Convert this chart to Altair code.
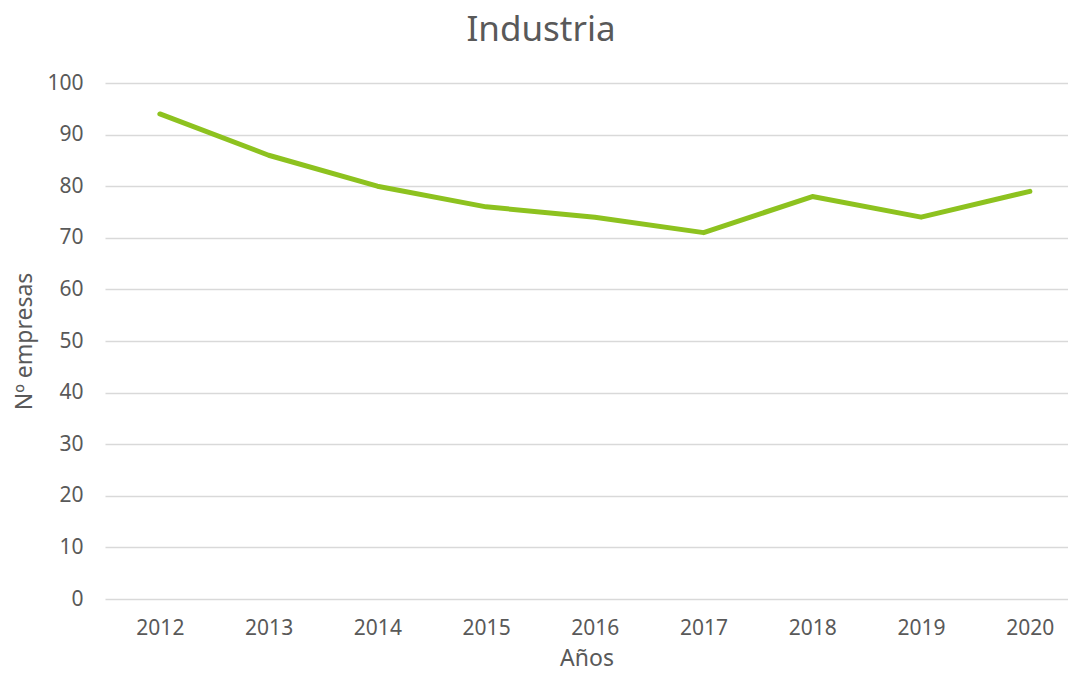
import altair as alt
import pandas as pd

years = ["2012", "2013", "2014", "2015", "2016", "2017", "2018", "2019", "2020"]
empresas = [94, 86, 80, 76, 74, 71, 78, 74, 79]

df = pd.DataFrame({"Año": years, "Empresas": empresas})

FONT = "Noto Sans"
TXT = "#595959"

chart = alt.Chart(df).mark_line(
    color="#8dc21f", strokeWidth=5, strokeCap="round", strokeJoin="round"
).encode(
    x=alt.X("Año:N", sort=years, title="Años",
            scale=alt.Scale(padding=0.4276, align=0.59),
            axis=alt.Axis(labelAngle=0, labelPadding=18, titlePadding=9,
                          ticks=False, domain=False, grid=False)),
    y=alt.Y("Empresas:Q", title="Nº empresas",
            scale=alt.Scale(domain=[0, 100], nice=False),
            axis=alt.Axis(values=list(range(0, 101, 10)), labelPadding=22,
                          titlePadding=10, ticks=False, domain=False,
                          grid=True, gridColor="#d9d9d9", gridWidth=1.5)),
).properties(
    width=963,
    height=516,
    title=alt.TitleParams("Industria", fontSize=35, font=FONT, color=TXT,
                          fontWeight="normal", anchor="middle", offset=24,
                          frame="bounds"),
    autosize=alt.AutoSizeParams(type="none"),
    padding={"left": 97, "top": 75, "right": 0, "bottom": 69},
).configure_axis(
    labelFont=FONT, labelFontSize=21, labelColor=TXT,
    titleFont=FONT, titleFontSize=23, titleColor=TXT, titleFontWeight="normal",
).configure_view(stroke=None)

chart.save("out.html", embed_options={"renderer": "svg", "actions": False})
